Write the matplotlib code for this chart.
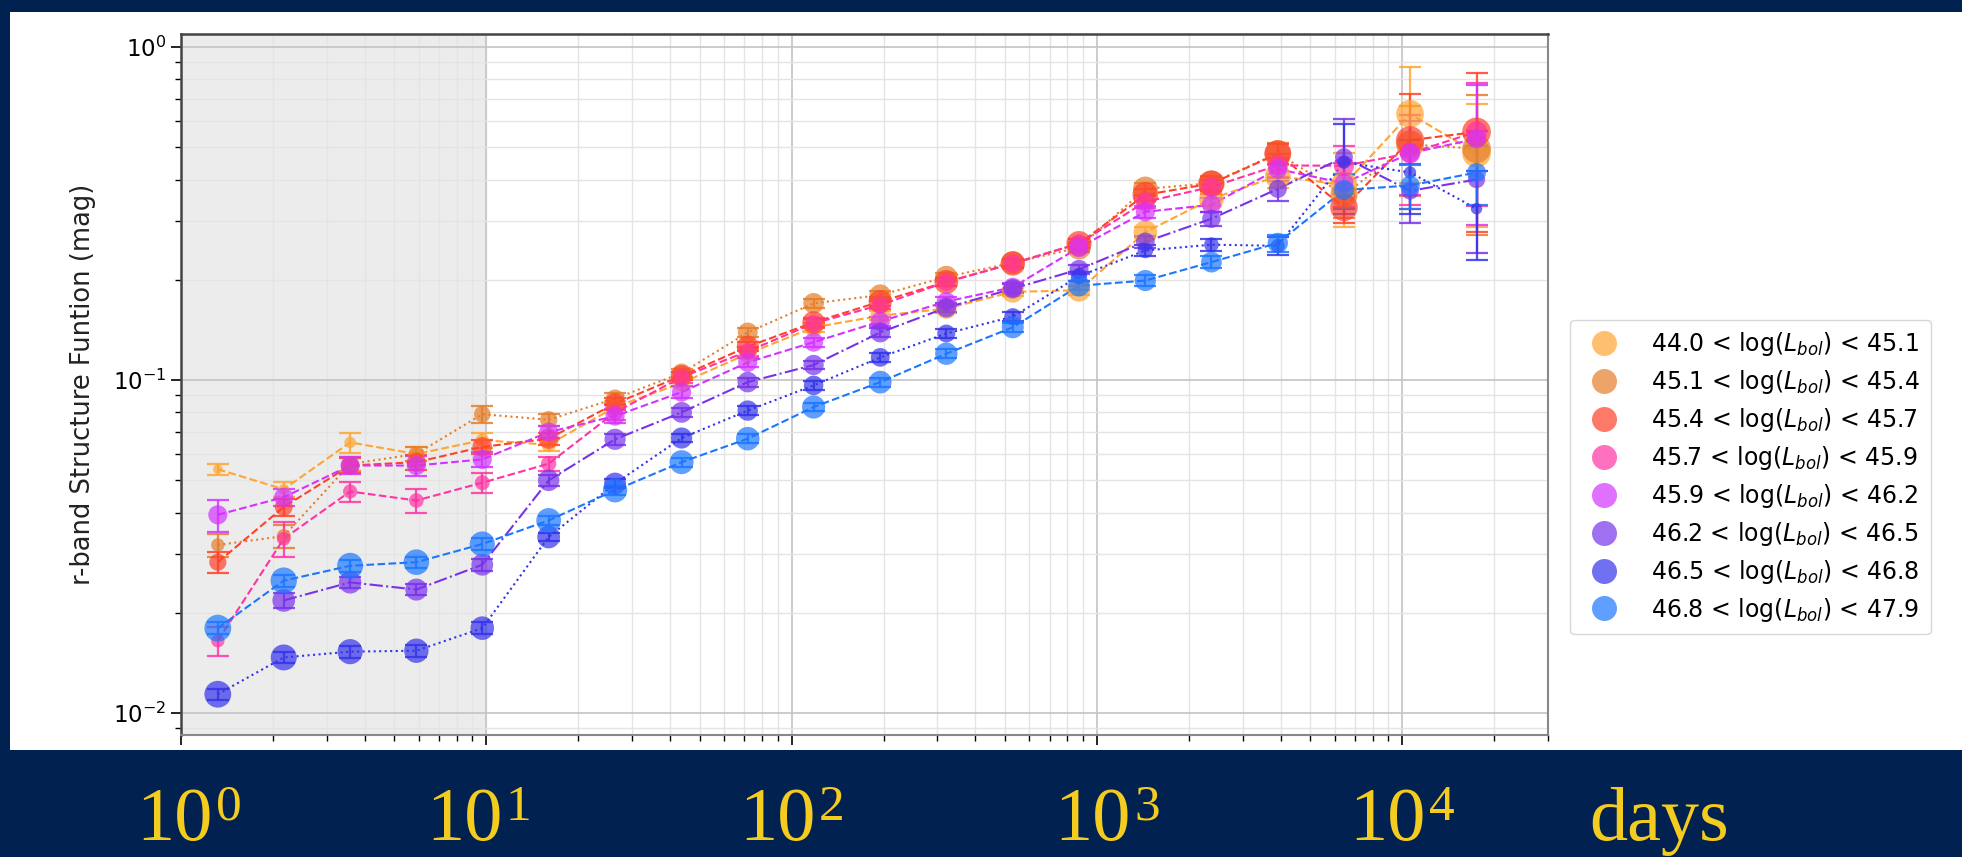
import numpy as np
import matplotlib.pyplot as plt
from matplotlib.lines import Line2D
from matplotlib.patches import Rectangle

# lag bins (days)
lags = [1.32, 2.17, 3.58, 5.9, 9.7, 16.0, 26.4, 43.6, 71.8, 118,
        195, 321, 530, 873, 1440, 2370, 3910, 6440, 10600, 17500]

labels = [
    r"44.0 < log($L_{bol}$) < 45.1",
    r"45.1 < log($L_{bol}$) < 45.4",
    r"45.4 < log($L_{bol}$) < 45.7",
    r"45.7 < log($L_{bol}$) < 45.9",
    r"45.9 < log($L_{bol}$) < 46.2",
    r"46.2 < log($L_{bol}$) < 46.5",
    r"46.5 < log($L_{bol}$) < 46.8",
    r"46.8 < log($L_{bol}$) < 47.9",
]

# slide labels under the lag axis
decade_exps = ["0", "1", "2", "3", "4"]
unit_label = "days"

# structure function (mag)
sf_440 = [0.054, 0.047, 0.065, 0.060, 0.066, 0.064, 0.083, 0.098, 0.120, 0.144,
          0.156, 0.164, 0.184, 0.186, 0.278, 0.350, 0.410, 0.385, 0.630, 0.480]
sf_451 = [0.032, 0.034, 0.056, 0.060, 0.079, 0.076, 0.088, 0.105, 0.139, 0.170,
          0.180, 0.204, 0.225, 0.250, 0.375, 0.390, 0.480, 0.360, 0.510, 0.495]
sf_454 = [0.0284, 0.0416, 0.0554, 0.0567, 0.063, 0.0667, 0.085, 0.103, 0.126, 0.149,
          0.172, 0.197, 0.224, 0.257, 0.360, 0.389, 0.478, 0.330, 0.525, 0.556]
sf_457 = [0.0165, 0.0334, 0.0463, 0.0435, 0.0492, 0.0561, 0.080, 0.102, 0.122, 0.148,
          0.168, 0.197, 0.224, 0.257, 0.343, 0.380, 0.441, 0.440, 0.480, 0.556]
sf_459 = [0.0394, 0.0445, 0.0554, 0.0554, 0.0578, 0.0698, 0.078, 0.092, 0.113, 0.130,
          0.150, 0.172, 0.190, 0.250, 0.320, 0.336, 0.430, 0.390, 0.480, 0.530]
sf_462 = [np.nan, 0.0218, 0.0247, 0.0235, 0.0279, 0.050, 0.0664, 0.080, 0.0986, 0.111,
          0.139, 0.165, 0.188, 0.215, 0.260, 0.305, 0.375, 0.467, 0.370, 0.400]
sf_465 = [0.0114, 0.0147, 0.0153, 0.0154, 0.018, 0.0338, 0.0489, 0.067, 0.081, 0.0964,
          0.117, 0.138, 0.155, 0.205, 0.245, 0.255, 0.253, 0.451, 0.420, 0.327]
sf_468 = [0.018, 0.025, 0.0277, 0.0284, 0.0322, 0.0379, 0.0467, 0.0567, 0.0667, 0.083,
          0.0986, 0.120, 0.144, 0.192, 0.199, 0.226, 0.258, 0.372, 0.384, 0.420]

# relative errors
err_440 = [0.04, 0.05, 0.07, 0.05, 0.05, 0.04, 0.04, 0.03, 0.03, 0.03,
           0.03, 0.03, 0.03, 0.03, 0.04, 0.05, 0.08, 0.25, 0.38, 0.40]
err_451 = [0.08, 0.08, 0.05, 0.05, 0.06, 0.04, 0.04, 0.03, 0.03, 0.03,
           0.03, 0.03, 0.03, 0.03, 0.04, 0.05, 0.07, 0.15, 0.30, 0.45]
err_454 = [0.07, 0.06, 0.05, 0.05, 0.05, 0.04, 0.04, 0.03, 0.03, 0.03,
           0.03, 0.03, 0.03, 0.03, 0.04, 0.05, 0.07, 0.10, 0.38, 0.50]
err_457 = [0.10, 0.12, 0.07, 0.08, 0.07, 0.05, 0.05, 0.04, 0.03, 0.03,
           0.03, 0.03, 0.03, 0.03, 0.04, 0.05, 0.08, 0.15, 0.30, 0.40]
err_459 = [0.11, 0.06, 0.06, 0.07, 0.05, 0.04, 0.05, 0.04, 0.03, 0.03,
           0.03, 0.03, 0.03, 0.03, 0.04, 0.05, 0.08, 0.15, 0.25, 0.45]
err_462 = [0.05, 0.05, 0.04, 0.04, 0.04, 0.04, 0.04, 0.03, 0.03, 0.03,
           0.03, 0.03, 0.03, 0.03, 0.04, 0.05, 0.08, 0.30, 0.20, 0.40]
err_465 = [0.04, 0.04, 0.04, 0.04, 0.04, 0.03, 0.03, 0.03, 0.03, 0.03,
           0.03, 0.03, 0.03, 0.03, 0.04, 0.04, 0.06, 0.30, 0.25, 0.30]
err_468 = [0.04, 0.04, 0.04, 0.04, 0.04, 0.03, 0.03, 0.03, 0.03, 0.03,
           0.03, 0.03, 0.03, 0.03, 0.04, 0.04, 0.06, 0.12, 0.15, 0.20]

series = [sf_440, sf_451, sf_454, sf_457, sf_459, sf_462, sf_465, sf_468]
errors = [err_440, err_451, err_454, err_457, err_459, err_462, err_465, err_468]

colors = ["#FFA533", "#E57E2A", "#FF412A", "#FF33A5",
          "#D333FF", "#7733EA", "#3333EA", "#1C77FF"]
linestyles = ["--", ":", "--", "--", "--", "-.", ":", "--"]
# marker size at first and last lag bin
msizes = [(5, 15), (7, 15), (9, 15), (7, 11), (10, 10), (12, 9), (14, 6), (14, 10)]

navy = "#012251"
gold = "#F4CB1F"

fig = plt.figure(figsize=(19.62, 8.57), dpi=100, facecolor=navy)
fig.patches.append(Rectangle((10 / 1962, 107 / 857), 1952 / 1962, 738 / 857,
                             transform=fig.transFigure, facecolor="white",
                             edgecolor="none", zorder=-5))

ax = fig.add_axes([181 / 1962, 122 / 857, 1367 / 1962, 701 / 857], zorder=2)
ax.set_facecolor("white")
ax.set_xscale("log")
ax.set_yscale("log")
ax.set_xlim(1, 3.0e4)
ax.set_ylim(0.0086, 1.094)

ax.axvspan(1, 10, color="#ececec", zorder=0)
ax.grid(True, which="major", color="#c4c4c4", lw=1.2, zorder=1)
ax.grid(True, which="minor", color="#e4e4e4", lw=1.0, zorder=1)

x = np.array(lags)
for y, rel, c, ls, (m0, m1) in zip(series, errors, colors, linestyles, msizes):
    y = np.array(y)
    yerr = y * np.array(rel)
    ax.errorbar(x, y, yerr=yerr, fmt="none", ecolor=c, elinewidth=1.6,
                capsize=8, capthick=1.6, alpha=0.85, zorder=3)
    ax.plot(x, y, ls=ls, color=c, lw=1.5, zorder=3)
    ms = np.linspace(m0, m1, len(x))
    ax.scatter(x, y, s=ms ** 2 * 1.9, color=c, alpha=0.7, edgecolors="none", zorder=4)

ax.set_ylabel("r-band Structure Funtion (mag)", fontsize=18.5, labelpad=12, color="#222222")
ax.tick_params(axis="y", which="major", labelsize=16.5, length=7, width=1.2)
ax.tick_params(axis="y", which="minor", length=4, width=1.0)
ax.tick_params(axis="x", which="major", labelbottom=False, length=7, width=1.2)
ax.tick_params(axis="x", which="minor", length=4, width=1.0)
for s in ["left", "top"]:
    ax.spines[s].set_color("#444444")
    ax.spines[s].set_linewidth(1.8)
for s in ["right", "bottom"]:
    ax.spines[s].set_color("#888888")
    ax.spines[s].set_linewidth(1.5)

handles = [Line2D([], [], ls="none", marker="o", ms=18, color=c, alpha=0.7,
                  markeredgecolor="none") for c in colors]
ax.legend(handles, labels, loc="center left", bbox_to_anchor=(1558 / 1962, 380 / 857),
          bbox_transform=fig.transFigure, fontsize=17, labelspacing=0.42,
          handletextpad=1.0, borderpad=0.45, frameon=True, edgecolor="#cccccc")

# slide annotation of the lag axis: "10" with a raised exponent, then the unit
base_right = [213, 503, 816, 1131, 1426]
for xr, e in zip(base_right, decade_exps):
    fig.text(xr / 1962, 1 / 857, "10", ha="right", va="bottom", color=gold,
             fontsize=55, family="Liberation Serif")
    fig.text((xr + 3) / 1962, 37 / 857, e, ha="left", va="baseline", color=gold,
             fontsize=37, family="Liberation Serif")
fig.text(1659 / 1962, 1 / 857, unit_label, ha="center", va="bottom", color=gold,
         fontsize=55, family="Liberation Serif")

fig.savefig("out.png", dpi=100, facecolor=navy)
